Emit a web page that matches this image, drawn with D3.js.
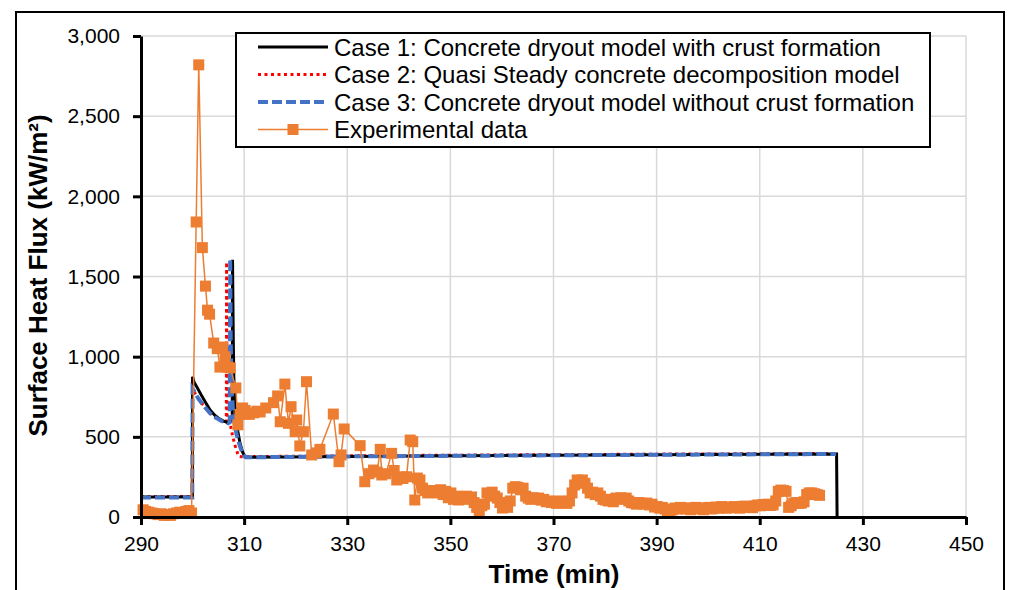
<!DOCTYPE html>
<html><head><meta charset="utf-8">
<script src="https://cdn.jsdelivr.net/npm/d3@7"></script>
<style>
body{margin:0;background:#fff}
svg{display:block}
text{font-family:"Liberation Sans",Arial,sans-serif;fill:#000}
</style>
</head><body>
<svg id="chart" width="1010" height="590"></svg>
<script>
// ---------- data ----------
const xTicks = [290, 310, 330, 350, 370, 390, 410, 430, 450];
const yTicks = [0, 500, 1000, 1500, 2000, 2500, 3000];
const seriesNames = [
  "Case 1: Concrete dryout model with crust formation",
  "Case 2: Quasi Steady concrete decomposition model",
  "Case 3: Concrete dryout model without crust formation",
  "Experimental data"
];
const xTitle = "Time (min)";
const yTitle = "Surface Heat Flux (kW/m²)";

const case1Time = [290, 299.95, 300.0, 300.3, 300.8, 301.7, 302.5, 303.4, 304.3, 305.2, 306.0, 306.8, 307.5, 307.7, 307.75, 307.9, 308.0, 308.2, 308.4, 308.8, 309.2, 309.7, 310.2, 310.6, 330, 360, 390, 424.9, 425.0];
const case1Flux = [125, 125, 875, 840, 813, 760, 715, 667, 635, 612, 598, 590, 600, 615, 1605, 1100, 875, 720, 626, 530, 460, 405, 375, 372, 378, 383, 388, 393, 0];

const case2Time = [290, 299.95, 300.0, 300.3, 301.0, 301.8, 302.8, 303.8, 304.7, 305.5, 306.3, 306.55, 306.6, 306.7, 307.3, 307.8, 308.3, 308.9, 309.4, 330, 360, 390, 424.8];
const case2Flux = [128, 128, 800, 780, 745, 709, 670, 640, 615, 603, 594, 590, 1590, 620, 580, 500, 440, 380, 376, 382, 387, 392, 396];

const case3Time = [290, 299.95, 300.0, 300.3, 301.0, 302.0, 303.4, 304.5, 305.5, 306.4, 306.9, 307.2, 307.3, 307.4, 307.6, 307.9, 308.5, 309.2, 309.8, 310.3, 330, 360, 390, 424.8];
const case3Flux = [122, 122, 800, 785, 745, 700, 647, 620, 600, 590, 584, 590, 1610, 1100, 800, 626, 520, 440, 390, 372, 378, 383, 388, 393];

const expTime = [
  290.4, 290.9, 291.5, 292.1, 292.7, 293.3, 293.9, 294.5, 295.1, 295.7, 296.3, 296.9, 297.5, 298.1, 298.7, 299.3, 299.8,
  300.7, 301.2, 301.9, 302.5, 302.9, 303.3, 304.1, 304.8, 305.3, 305.8, 306.3, 306.8, 307.3, 308.4, 308.8, 309.2, 309.7, 310.2, 311.0, 311.9, 312.5, 313.1, 314.2,
  315.7, 316.5, 317.0, 317.9, 318.6, 319.1, 319.9, 320.2, 320.8, 321.5, 322.1, 323.1, 324.0, 324.7, 327.3, 328.4, 328.8, 329.4, 332.5,
  333.4, 334.2, 335.1, 335.8, 336.4, 336.7, 337.5, 338.6, 339.1, 339.6, 340.2, 340.8, 341.5, 342.2, 342.7, 343.1,
  343.6, 344.1, 344.6, 345.1, 345.6, 346.1, 346.6, 347.1, 347.6, 348.1, 348.6, 349.1, 349.6, 350.1, 350.6, 351.1, 351.6, 352.1, 352.6, 353.1, 353.6, 354.1, 354.6, 355.1, 355.6, 356.1, 356.6, 357.1, 357.6, 358.1, 358.6, 359.1, 359.6, 360.1, 360.6, 361.1, 361.6, 362.1, 362.6, 363.1, 363.6, 364.1, 364.6,
  365.1, 365.6, 366.1, 366.6, 367.1, 367.6, 368.1, 368.6, 369.1, 369.6, 370.1, 370.6, 371.1, 371.6, 372.1, 372.6, 373.1, 373.6, 374.1, 374.6, 375.1, 375.6, 376.1, 376.6, 377.1, 377.6, 378.1, 378.6, 379.1, 379.6, 380.1, 380.6, 381.1, 381.6, 382.1, 382.6, 383.1, 383.6, 384.1, 384.6,
  385.1, 385.6, 386.1, 386.6, 387.1, 387.6, 388.1, 388.6, 389.1, 389.6, 390.1, 390.6, 391.1, 391.6, 392.1, 392.6, 393.1, 393.6, 394.1, 394.6, 395.1, 395.6, 396.1, 396.6, 397.1, 397.6, 398.1, 398.6, 399.1, 399.6, 400.1, 400.6, 401.1, 401.6, 402.1, 402.6, 403.1, 403.6, 404.1, 404.6,
  405.1, 405.6, 406.1, 406.6, 407.1, 407.6, 408.1, 408.6, 409.1, 409.6, 410.1, 410.6, 411.1, 411.6, 412.1, 412.6, 413.1, 413.6, 414.1, 414.6, 415.1, 415.6, 416.1, 416.6, 417.1, 417.6, 418.1, 418.6, 419.1, 419.6, 420.1, 420.6, 421.1, 421.6
];
const expFlux = [
  45, 35, 30, 25, 20, 15, 20, 10, 15, 10, 20, 25, 30, 25, 35, 40, 25,
  1840, 2820, 1680, 1440, 1290, 1265, 1085, 1050, 935, 1060, 1000, 935, 930, 805, 575, 640, 680, 665, 640, 650, 660, 655, 680,
  713, 755, 594, 829, 584, 688, 532, 605, 443, 532, 844, 387, 400, 422, 642, 345, 387, 549, 445,
  220, 270, 293, 280, 422, 262, 270, 397, 290, 231, 250, 240, 251, 480, 470, 106,
  243, 231, 180, 165, 150, 160, 155, 165, 150, 170, 140, 160, 120, 150, 110, 130, 106, 127, 120, 130, 110, 125, 90, 60, 37, 70, 80, 150, 145, 155, 130, 118, 90, 56, 70, 60, 100, 180, 189, 185, 170, 180, 130,
  118, 110, 120, 115, 118, 105, 110, 95, 100, 90, 95, 85, 100, 90, 95, 85, 100, 150, 200, 231, 225, 231, 210, 180, 150, 155, 140, 150, 130, 110, 106, 100, 110, 95, 118, 115, 120, 110, 118, 100,
  90, 87, 80, 90, 85, 80, 87, 75, 80, 62, 65, 55, 60, 50, 40, 25, 45, 56, 50, 60, 55, 50, 56, 45, 55, 60, 50, 55, 45, 56, 60, 50, 55, 62, 55, 65, 60, 55, 62, 58,
  65, 60, 55, 62, 68, 60, 62, 58, 70, 75, 70, 78, 75, 80, 72, 75, 100, 160, 168, 165, 160, 60, 70, 87, 90, 85, 87, 95, 140, 150, 150, 145, 140, 135
];

// ---------- layout ----------
const svg = d3.select("#chart");
const plot = {left: 141, right: 966, top: 36, bottom: 517};

const x = d3.scaleLinear().domain([290, 450]).range([plot.left, plot.right]);
const y = d3.scaleLinear().domain([0, 3000]).range([plot.bottom, plot.top]);

// outer frame
svg.append("rect").attr("x", 16).attr("y", 12).attr("width", 988).attr("height", 620)
  .attr("fill", "#fff").attr("stroke", "#000").attr("stroke-width", 2);

// gridlines
const grid = svg.append("g");
grid.selectAll(".hg").data(yTicks.filter(d => d > 0)).join("line")
  .attr("x1", plot.left).attr("x2", plot.right)
  .attr("y1", d => y(d)).attr("y2", d => y(d))
  .attr("stroke", "#d9d9d9").attr("stroke-width", 1.5);
grid.selectAll(".vg").data(xTicks.filter(d => d > 290)).join("line")
  .attr("y1", plot.top).attr("y2", plot.bottom)
  .attr("x1", d => x(d)).attr("x2", d => x(d))
  .attr("stroke", "#d9d9d9").attr("stroke-width", 1.5);

const line = d3.line().x(d => x(d[0])).y(d => y(d[1]));
const zip = (a, b) => a.map((t, i) => [t, b[i]]);

const styles = [
  {color: "#000000", width: 3, dash: null},
  {color: "#ff0000", width: 3, dash: "3,3.5"},
  {color: "#4472c4", width: 4, dash: "10,4"},
  {color: "#ed7d31", width: 1.5, dash: null}
];

// model curves: Case 2 (red), Case 1 (black), Case 3 (blue)
svg.append("path").datum(zip(case2Time, case2Flux)).attr("d", line)
  .attr("fill", "none").attr("stroke", styles[1].color).attr("stroke-width", styles[1].width)
  .attr("stroke-dasharray", styles[1].dash);
svg.append("path").datum(zip(case1Time, case1Flux)).attr("d", line)
  .attr("fill", "none").attr("stroke", styles[0].color).attr("stroke-width", styles[0].width);
svg.append("path").datum(zip(case3Time, case3Flux)).attr("d", line)
  .attr("fill", "none").attr("stroke", styles[2].color).attr("stroke-width", styles[2].width)
  .attr("stroke-dasharray", styles[2].dash);

// experimental data
const expData = zip(expTime, expFlux);
svg.append("path").datum(expData).attr("d", line)
  .attr("fill", "none").attr("stroke", styles[3].color).attr("stroke-width", styles[3].width);
const ms = 11;
svg.append("g").selectAll("rect").data(expData).join("rect")
  .attr("x", d => x(d[0]) - ms / 2).attr("y", d => y(d[1]) - ms / 2)
  .attr("width", ms).attr("height", ms)
  .attr("fill", styles[3].color);

// axes
const yAxis = svg.append("g").attr("transform", `translate(${plot.left},0)`)
  .call(d3.axisLeft(y).tickValues(yTicks).tickFormat(d3.format(",")).tickSize(8).tickPadding(13).tickSizeOuter(0));
const xAxis = svg.append("g").attr("transform", `translate(0,${plot.bottom})`)
  .call(d3.axisBottom(x).tickValues(xTicks).tickFormat(d3.format("d")).tickSize(8).tickPadding(11).tickSizeOuter(0));
[yAxis, xAxis].forEach(g => {
  g.select(".domain").attr("stroke", "#000").attr("stroke-width", 3);
  g.selectAll(".tick line").attr("stroke", "#000").attr("stroke-width", 3);
  g.selectAll(".tick text").attr("font-size", 21).attr("font-family", "Liberation Sans, Arial, sans-serif").attr("fill", "#000");
});

// axis titles
svg.append("text").attr("transform", `translate(47,${(plot.top + plot.bottom) / 2 - 1}) rotate(-90)`)
  .attr("text-anchor", "middle").attr("font-size", 26).attr("font-weight", "bold").text(yTitle);
svg.append("text").attr("x", 554).attr("y", 583)
  .attr("text-anchor", "middle").attr("font-size", 26).attr("font-weight", "bold").text(xTitle);

// legend
const lg = svg.append("g");
lg.append("rect").attr("x", 236).attr("y", 33).attr("width", 694).attr("height", 114)
  .attr("fill", "#fff").attr("stroke", "#000").attr("stroke-width", 2);
seriesNames.forEach((name, i) => {
  const cy = 47 + i * 27.5;
  const s = styles[i];
  lg.append("line").attr("x1", 258).attr("x2", 328).attr("y1", cy).attr("y2", cy)
    .attr("stroke", s.color).attr("stroke-width", i === 3 ? 1.5 : s.width)
    .attr("stroke-dasharray", s.dash);
  if (i === 3) {
    lg.append("rect").attr("x", 293 - 5.5).attr("y", cy - 5.5).attr("width", 11).attr("height", 11)
      .attr("fill", s.color);
  }
  lg.append("text").attr("x", 334).attr("y", cy).attr("dy", "0.36em")
    .attr("font-size", 24).text(name);
});
</script>
</body></html>
